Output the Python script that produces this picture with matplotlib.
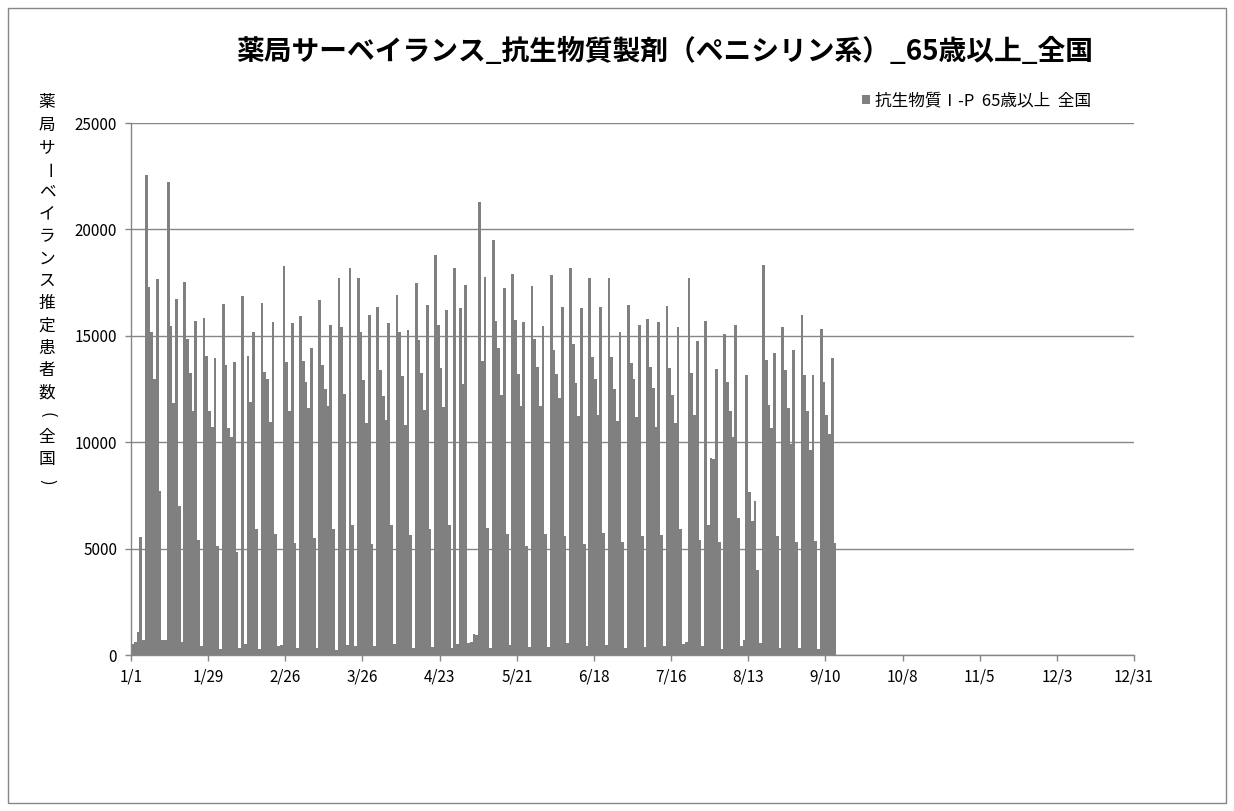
import numpy as np
import pandas as pd
import matplotlib
matplotlib.use('Agg')
import matplotlib.pyplot as plt
from matplotlib.patches import Rectangle

plt.rcParams['font.family'] = ['Noto Sans CJK JP', 'DejaVu Sans']

# 日別の推定患者数（2014/1/1 から）
jan = [500, 600, 1100, 5550, 700, 22550, 17300, 15170, 12990, 17670, 7700, 700, 700, 22250, 15450, 11850,
       16750, 7000, 600, 17550, 14850, 13250, 11450, 15700, 5400, 400, 15850, 14050, 11450, 10700, 13950]
feb = [5100, 300, 16500, 13650, 10650, 10250, 13750, 4850, 350, 16850, 500, 14050, 11900, 15200, 5900, 300,
       16550, 13300, 12950, 10950, 15650, 5700, 400, 450, 18300, 13750, 11450, 15600]
mar = [5250, 350, 15950, 13800, 12850, 11600, 14450, 5500, 350, 16700, 13650, 12500, 11700, 15500, 5900, 250,
       17700, 15400, 12250, 450, 18200, 6100, 400, 17700, 15200, 12900, 10900, 16000, 5200, 400, 16350]
apr = [13400, 12150, 11050, 15600, 6100, 500, 16900, 15200, 13100, 10800, 15250, 5650, 330, 17500, 14800,
       13250, 11500, 16450, 5900, 390, 18800, 15500, 13500, 11650, 16200, 6100, 330, 18200, 500, 16300]
may = [12750, 17400, 550, 600, 1000, 950, 21300, 13800, 17750, 5950, 320, 19500, 15700, 14450, 12200, 17250,
       5700, 450, 17900, 15750, 13200, 11700, 15650, 5100, 380, 17350, 14850, 13550, 11700, 15450, 5700]
jun = [380, 17850, 14350, 13200, 12100, 16350, 5600, 550, 18200, 14600, 12800, 11250, 16300, 5200, 400, 17700,
       14000, 12950, 11300, 16350, 5750, 450, 17700, 14000, 12500, 11000, 15200, 5300, 320, 16450]
jul = [13700, 12950, 11200, 15500, 5600, 380, 15800, 13550, 12550, 10700, 15650, 5650, 400, 16400, 13500,
       12200, 10900, 15400, 5900, 500, 600, 17700, 13250, 11300, 14750, 5400, 420, 15700, 6100, 9250, 9200]
aug = [13450, 5300, 300, 15100, 12850, 11450, 10250, 15500, 6450, 400, 700, 13150, 7650, 6300, 7250, 4000,
       580, 18350, 13850, 11750, 10650, 14200, 5600, 350, 15400, 13400, 11600, 9900, 14350, 5300, 320]
sep = [16000, 13150, 11450, 9650, 13150, 5350, 300, 15300, 12850, 11300, 10400, 13950, 5250]

values = jan + feb + mar + apr + may + jun + jul + aug + sep
dates = pd.date_range('2014-01-01', periods=len(values), freq='D')
start = pd.Timestamp('2014-01-01')

tick_labels = ['1/1', '1/29', '2/26', '3/26', '4/23', '5/21', '6/18', '7/16', '8/13',
               '9/10', '10/8', '11/5', '12/3', '12/31']
y_ticks = [0, 5000, 10000, 15000, 20000, 25000]

title = '薬局サーベイランス_抗生物質製剤（ペニシリン系）_65歳以上_全国'
series_name = '抗生物質Ⅰ-P  65歳以上  全国'
ylabel = '薬局サーベイランス推定患者数(全国)'

W, H = 1234, 811
fig = plt.figure(figsize=(W / 100, H / 100), dpi=100)
ax = fig.add_axes([131 / W, 1 - 655 / H, 1003 / W, 532 / H])

x = np.array([(d - start).days for d in dates])
ax.bar(x, values, width=1.0, align='edge', color='#808080', linewidth=0, label=series_name, zorder=2)

grey = '#868686'
tick_pos = [i * 28 for i in range(len(tick_labels))]
ax.set_xlim(0, 364)
ax.set_ylim(0, 25000)
ax.set_xticks(tick_pos)
ax.set_xticklabels(tick_labels, fontsize=11)
ax.set_yticks(y_ticks)
ax.set_yticklabels([str(v) for v in y_ticks], fontsize=11)
ax.yaxis.grid(True, color=grey, linewidth=1)
ax.set_axisbelow(True)
for s in ['top', 'right']:
    ax.spines[s].set_visible(False)
for s in ['left', 'bottom']:
    ax.spines[s].set_color(grey)
    ax.spines[s].set_linewidth(1)
ax.tick_params(axis='both', direction='out', length=4, width=1, color=grey)
ax.tick_params(axis='x', pad=6)
ax.tick_params(axis='y', pad=6)

# 外枠
fig.patches.append(Rectangle((8 / W, 1 - 803 / H), 1218 / W, 795 / H, transform=fig.transFigure,
                             fill=False, edgecolor=grey, linewidth=1))

fig.text(665 / W, 1 - 52 / H, title, ha='center', va='center', fontsize=20, fontweight='bold')

ax.legend(loc='center left', bbox_to_anchor=(862 / W, 1 - 101 / H), bbox_transform=fig.transFigure,
          frameon=False, fontsize=12, handlelength=0.5, handleheight=0.5, handletextpad=0.3,
          borderpad=0, borderaxespad=0)

# 縦書きの軸ラベル（ー と括弧は縦向きに回転）
n = len(ylabel)
for i, ch in enumerate(ylabel):
    yy = 103 + i * (482 - 103) / (n - 1)
    rot = 270 if ch in 'ー()' else 0
    fig.text(47 / W, 1 - yy / H, ch, ha='center', va='center', fontsize=12, rotation=rot)

fig.savefig('out.png', dpi=100)
